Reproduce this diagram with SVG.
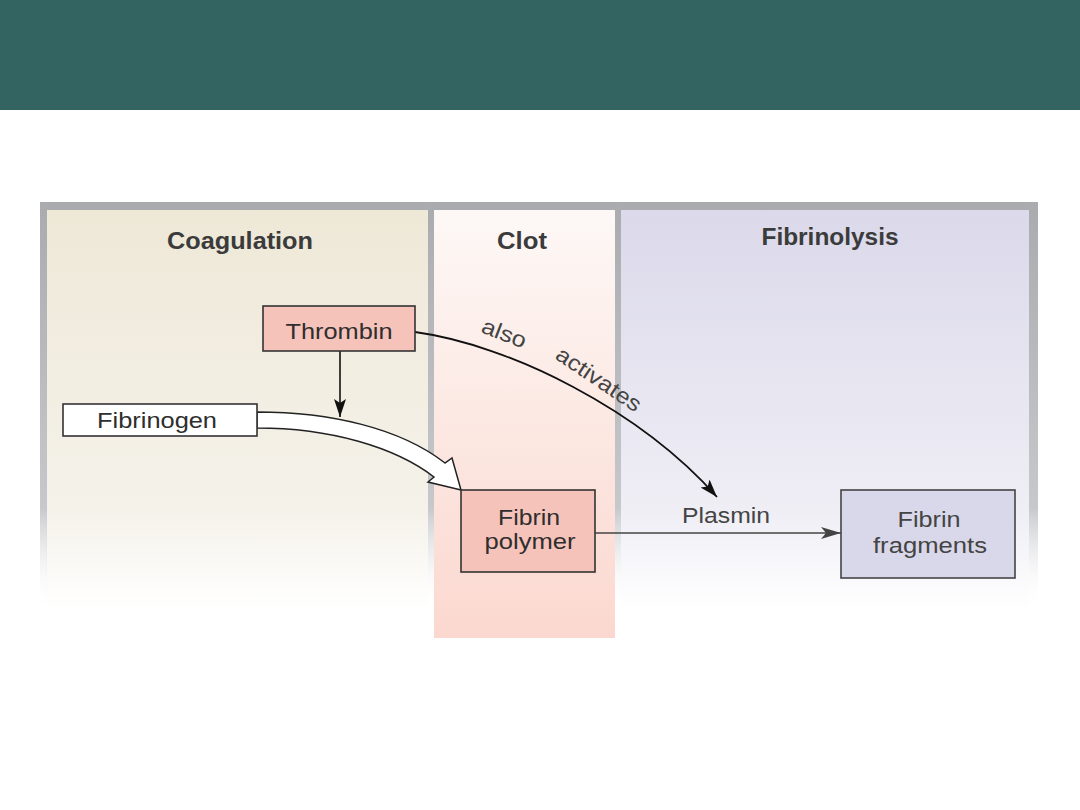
<svg xmlns="http://www.w3.org/2000/svg" width="1080" height="810" viewBox="0 0 1080 810">
<style>
.title{font-family:"Liberation Sans",Arial,sans-serif;font-weight:bold;font-size:23px;fill:#3b3b3b;text-anchor:middle}
.lbl{font-family:"Liberation Sans",Arial,sans-serif;font-size:22px;fill:#2e2e2e;text-anchor:middle}
.lbl2{font-family:"Liberation Sans",Arial,sans-serif;font-size:22px;fill:#444;text-anchor:middle}
.edge{font-family:"Liberation Sans",Arial,sans-serif;font-size:22px;fill:#444}
.box{stroke:#333;stroke-width:1.6}
</style>
<defs>
<linearGradient id="gCoag" x1="0" y1="0" x2="0" y2="1">
<stop offset="0" stop-color="#eee8d7"/><stop offset="0.75" stop-color="#f5f2ea"/><stop offset="1" stop-color="#ffffff"/>
</linearGradient>
<linearGradient id="gClot" x1="0" y1="0" x2="0" y2="1">
<stop offset="0" stop-color="#fdf8f6"/><stop offset="1" stop-color="#fbd8cf"/>
</linearGradient>
<linearGradient id="gFib" x1="0" y1="0" x2="0" y2="1">
<stop offset="0" stop-color="#dbd9ea"/><stop offset="0.75" stop-color="#efeef5"/><stop offset="1" stop-color="#ffffff"/>
</linearGradient>
<linearGradient id="gBar" x1="0" y1="0" x2="0" y2="1">
<stop offset="0" stop-color="#a9abaf"/><stop offset="0.75" stop-color="#c6c8cc"/><stop offset="1" stop-color="#ffffff" stop-opacity="0"/>
</linearGradient>
<marker id="ahBlack" markerUnits="userSpaceOnUse" markerWidth="20" markerHeight="14" refX="18" refY="6" orient="auto">
<path d="M0,0 L18,6 L0,12 L4,6 Z" fill="#111"/>
</marker>
<marker id="ahGray" markerUnits="userSpaceOnUse" markerWidth="22" markerHeight="14" refX="20" refY="6" orient="auto">
<path d="M0,0 L20,6 L0,12 L5,6 Z" fill="#444"/>
</marker>
</defs>

<rect x="0" y="0" width="1080" height="110" fill="#336462"/>

<g id="panels">
<rect x="46" y="210" width="382" height="400" fill="url(#gCoag)"/>
<rect x="434" y="210" width="181" height="428" fill="url(#gClot)"/>
<rect x="621" y="210" width="408" height="400" fill="url(#gFib)"/>
<rect x="40" y="202" width="998" height="8" fill="#a9abaf"/>
<rect x="40" y="202" width="7" height="408" fill="url(#gBar)"/>
<rect x="428" y="202" width="6" height="408" fill="url(#gBar)"/>
<rect x="615" y="202" width="6" height="408" fill="url(#gBar)"/>
<rect x="1029" y="202" width="9" height="408" fill="url(#gBar)"/>
<text class="title" x="240" y="249" textLength="146" lengthAdjust="spacingAndGlyphs">Coagulation</text>
<text class="title" x="522" y="249" textLength="50" lengthAdjust="spacingAndGlyphs">Clot</text>
<text class="title" x="830" y="245" textLength="137" lengthAdjust="spacingAndGlyphs">Fibrinolysis</text>
</g>

<g id="connectors">
<line x1="340" y1="351" x2="340" y2="417" stroke="#111" stroke-width="1.6" marker-end="url(#ahBlack)"/>
<path d="M415,332 C510,345 640,410 717,497" fill="none" stroke="#111" stroke-width="1.8" marker-end="url(#ahBlack)"/>
<path d="M257,412 C330,412 400,428 445,463 L452,458 L461,490 L428,482 L434,477 C395,447 330,428 257,428 Z" fill="#ffffff" stroke="#222" stroke-width="1.5" stroke-linejoin="miter"/>
<line x1="595" y1="533" x2="841" y2="533" stroke="#444" stroke-width="1.6" marker-end="url(#ahGray)"/>
<text class="edge" transform="translate(480,332) rotate(21)" textLength="46" lengthAdjust="spacingAndGlyphs">also</text>
<text class="edge" transform="translate(554,358) rotate(34)" textLength="98" lengthAdjust="spacingAndGlyphs">activates</text>
<text class="lbl2" x="726" y="523" textLength="88" lengthAdjust="spacingAndGlyphs">Plasmin</text>
</g>

<g id="thrombin">
<rect class="box" x="263" y="306" width="152" height="45" fill="#f6c3ba"/>
<text class="lbl" x="339" y="339" textLength="107" lengthAdjust="spacingAndGlyphs">Thrombin</text>
</g>

<g id="fibrinogen">
<rect class="box" x="63" y="404" width="194" height="32" fill="#ffffff"/>
<text class="lbl" x="157" y="428" textLength="120" lengthAdjust="spacingAndGlyphs">Fibrinogen</text>
</g>

<g id="fibrin-polymer">
<rect class="box" x="461" y="490" width="134" height="82" fill="#f6c3ba"/>
<text class="lbl" x="529" y="525" textLength="62" lengthAdjust="spacingAndGlyphs">Fibrin</text>
<text class="lbl" x="530" y="549" textLength="91" lengthAdjust="spacingAndGlyphs">polymer</text>
</g>

<g id="fibrin-fragments">
<rect x="841" y="490" width="174" height="88" fill="#d9d8ea" stroke="#444" stroke-width="1.6"/>
<text class="lbl2" x="929" y="527" textLength="63" lengthAdjust="spacingAndGlyphs">Fibrin</text>
<text class="lbl2" x="930" y="553" textLength="114" lengthAdjust="spacingAndGlyphs">fragments</text>
</g>
</svg>
